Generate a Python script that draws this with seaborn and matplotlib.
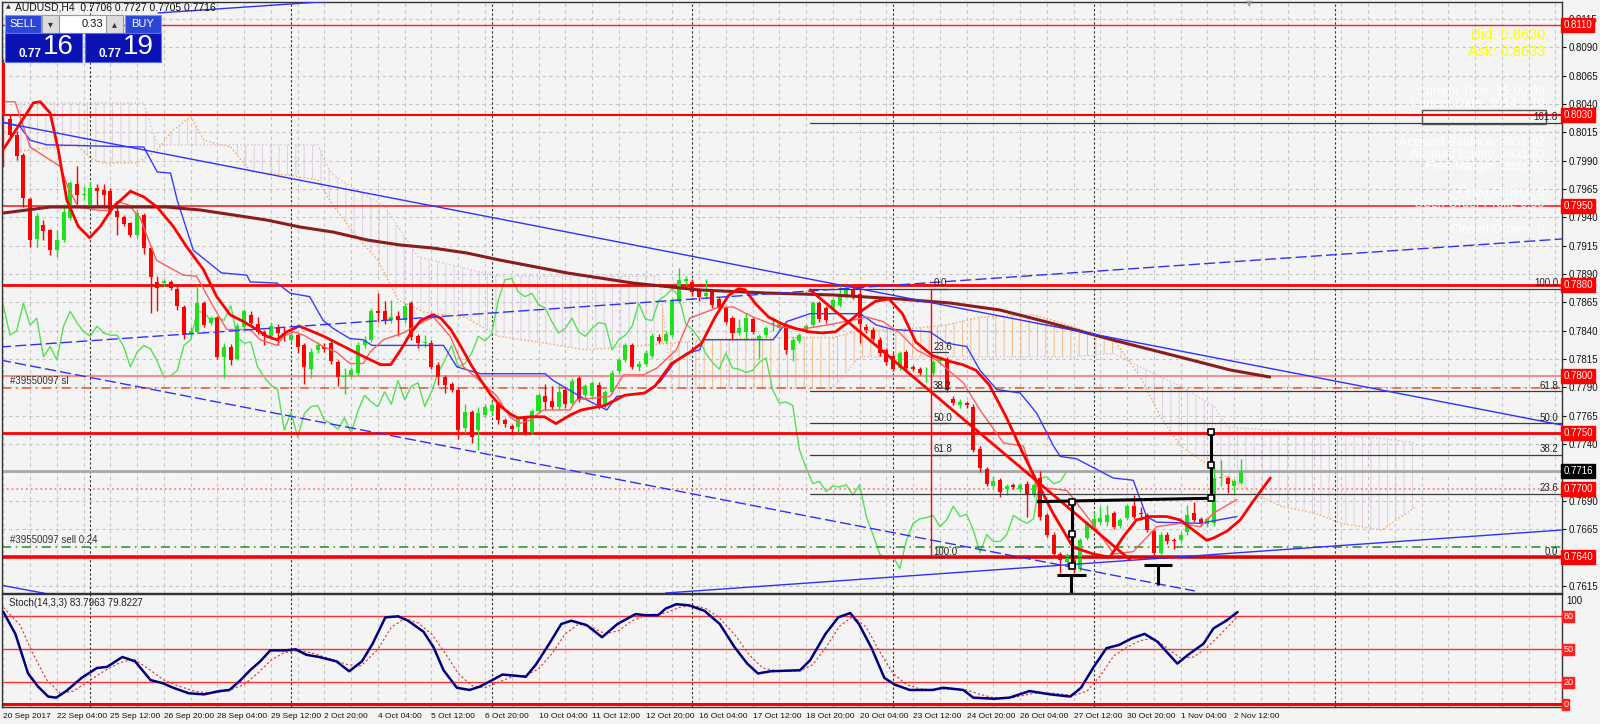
import numpy as np
import pandas as pd
import matplotlib.pyplot as plt
from matplotlib.patches import Rectangle
import seaborn as sns

sns.set_style("white")
plt.rcParams['font.family'] = ['Liberation Sans', 'DejaVu Sans']
plt.rcParams['hatch.linewidth'] = 0.7

# ---------------- data (AUDUSD H4) ----------------
opens = [0.8076, 0.8027, 0.8013, 0.7995, 0.7956, 0.7921, 0.7933, 0.7929, 0.7911, 0.7920,
         0.7939, 0.7969, 0.7960, 0.7950, 0.7966, 0.7964, 0.7963, 0.7946, 0.7940, 0.7935,
         0.7924, 0.7942, 0.7913, 0.7883, 0.7882, 0.7883, 0.7877, 0.7861, 0.7837, 0.7839,
         0.7864, 0.7847, 0.7851, 0.7817, 0.7826, 0.7815, 0.7843, 0.7854, 0.7846, 0.7839,
         0.7835, 0.7842, 0.7838, 0.7832, 0.7836, 0.7827, 0.7806, 0.7823, 0.7826, 0.7829,
         0.7812, 0.7799, 0.7800, 0.7803, 0.7827, 0.7832, 0.7857, 0.7857, 0.7849, 0.7853,
         0.7849, 0.7864, 0.7835, 0.7829, 0.7829, 0.7810, 0.7799, 0.7793, 0.7788, 0.7754,
         0.7768, 0.7752, 0.7766, 0.7769, 0.7775, 0.7761, 0.7756, 0.7755, 0.7763, 0.7751,
         0.7769, 0.7782, 0.7778, 0.7773, 0.7788, 0.7776, 0.7798, 0.7783, 0.7782, 0.7792,
         0.7774, 0.7786, 0.7804, 0.7814, 0.7827, 0.7808, 0.7811, 0.7818, 0.7834, 0.7831,
         0.7836, 0.7866, 0.7884, 0.7883, 0.7876, 0.7871, 0.7874, 0.7868, 0.7860, 0.7851,
         0.7838, 0.7839, 0.7850, 0.7832, 0.7836, 0.7846, 0.7842, 0.7845, 0.7823, 0.7831,
         0.7841, 0.7845, 0.7864, 0.7860, 0.7860, 0.7863, 0.7871, 0.7877, 0.7872, 0.7843,
         0.7841, 0.7832, 0.7823, 0.7818, 0.7807, 0.7821, 0.7808, 0.7806, 0.7805, 0.7803,
         0.7813, 0.7815, 0.7780, 0.7774, 0.7776, 0.7773, 0.7736, 0.7718, 0.7703, 0.7708,
         0.7700, 0.7704, 0.7700, 0.7705, 0.7695, 0.7710, 0.7677, 0.7660, 0.7643, 0.7636,
         0.7638, 0.7630, 0.7657, 0.7667, 0.7671, 0.7671, 0.7679, 0.7668, 0.7675, 0.7685,
         0.7679, 0.7677, 0.7663, 0.7644, 0.7660, 0.7655, 0.7655, 0.7662, 0.7679, 0.7674,
         0.7669, 0.7670, 0.7710, 0.7710, 0.7703, 0.7706]
highs = [0.8080, 0.8030, 0.8016, 0.7997, 0.7958, 0.7944, 0.7938, 0.7930, 0.7929, 0.7952,
         0.7972, 0.7985, 0.7968, 0.7971, 0.7969, 0.7969, 0.7966, 0.7949, 0.7942, 0.7936,
         0.7947, 0.7944, 0.7915, 0.7888, 0.7886, 0.7885, 0.7879, 0.7863, 0.7843, 0.7880,
         0.7866, 0.7853, 0.7853, 0.7829, 0.7828, 0.7847, 0.7859, 0.7857, 0.7852, 0.7841,
         0.7848, 0.7846, 0.7843, 0.7840, 0.7838, 0.7829, 0.7825, 0.7830, 0.7829, 0.7831,
         0.7814, 0.7807, 0.7808, 0.7830, 0.7835, 0.7860, 0.7873, 0.7866, 0.7867, 0.7857,
         0.7864, 0.7866, 0.7837, 0.7836, 0.7832, 0.7812, 0.7801, 0.7795, 0.7790, 0.7775,
         0.7770, 0.7773, 0.7775, 0.7777, 0.7777, 0.7763, 0.7758, 0.7765, 0.7765, 0.7771,
         0.7785, 0.7793, 0.7791, 0.7793, 0.7790, 0.7798, 0.7800, 0.7793, 0.7796, 0.7795,
         0.7788, 0.7805, 0.7816, 0.7829, 0.7829, 0.7813, 0.7823, 0.7838, 0.7837, 0.7840,
         0.7869, 0.7895, 0.7888, 0.7886, 0.7878, 0.7886, 0.7876, 0.7870, 0.7862, 0.7853,
         0.7850, 0.7856, 0.7852, 0.7837, 0.7844, 0.7852, 0.7848, 0.7847, 0.7834, 0.7838,
         0.7846, 0.7866, 0.7866, 0.7862, 0.7869, 0.7880, 0.7880, 0.7880, 0.7879, 0.7846,
         0.7843, 0.7834, 0.7825, 0.7820, 0.7822, 0.7823, 0.7810, 0.7808, 0.7808, 0.7814,
         0.7818, 0.7817, 0.7782, 0.7780, 0.7778, 0.7775, 0.7738, 0.7720, 0.7712, 0.7710,
         0.7705, 0.7706, 0.7706, 0.7707, 0.7706, 0.7716, 0.7679, 0.7662, 0.7645, 0.7644,
         0.7640, 0.7657, 0.7672, 0.7680, 0.7685, 0.7686, 0.7681, 0.7675, 0.7687, 0.7695,
         0.7684, 0.7679, 0.7665, 0.7662, 0.7662, 0.7657, 0.7662, 0.7686, 0.7689, 0.7676,
         0.7676, 0.7720, 0.7726, 0.7712, 0.7709, 0.7727]
lows = [0.7984, 0.8010, 0.7991, 0.7949, 0.7914, 0.7914, 0.7920, 0.7907, 0.7905, 0.7918,
        0.7938, 0.7951, 0.7955, 0.7949, 0.7949, 0.7948, 0.7943, 0.7924, 0.7932, 0.7923,
        0.7922, 0.7908, 0.7856, 0.7857, 0.7879, 0.7876, 0.7858, 0.7833, 0.7834, 0.7838,
        0.7843, 0.7845, 0.7815, 0.7798, 0.7810, 0.7814, 0.7841, 0.7845, 0.7837, 0.7827,
        0.7833, 0.7827, 0.7831, 0.7830, 0.7820, 0.7793, 0.7798, 0.7820, 0.7821, 0.7811,
        0.7791, 0.7784, 0.7798, 0.7801, 0.7825, 0.7830, 0.7848, 0.7846, 0.7847, 0.7835,
        0.7847, 0.7832, 0.7825, 0.7826, 0.7806, 0.7792, 0.7785, 0.7786, 0.7744, 0.7750,
        0.7741, 0.7735, 0.7764, 0.7766, 0.7758, 0.7755, 0.7748, 0.7751, 0.7748, 0.7749,
        0.7767, 0.7770, 0.7771, 0.7771, 0.7772, 0.7774, 0.7777, 0.7780, 0.7780, 0.7771,
        0.7772, 0.7784, 0.7802, 0.7812, 0.7806, 0.7804, 0.7809, 0.7816, 0.7829, 0.7829,
        0.7834, 0.7864, 0.7880, 0.7871, 0.7866, 0.7868, 0.7860, 0.7857, 0.7846, 0.7832,
        0.7836, 0.7832, 0.7837, 0.7815, 0.7834, 0.7840, 0.7840, 0.7819, 0.7813, 0.7829,
        0.7838, 0.7843, 0.7848, 0.7847, 0.7858, 0.7861, 0.7869, 0.7868, 0.7829, 0.7838,
        0.7831, 0.7818, 0.7810, 0.7804, 0.7805, 0.7805, 0.7804, 0.7801, 0.7795, 0.7801,
        0.7811, 0.7786, 0.7774, 0.7772, 0.7772, 0.7733, 0.7715, 0.7703, 0.7701, 0.7693,
        0.7695, 0.7700, 0.7698, 0.7676, 0.7693, 0.7673, 0.7658, 0.7640, 0.7626, 0.7633,
        0.7626, 0.7628, 0.7655, 0.7665, 0.7669, 0.7668, 0.7665, 0.7666, 0.7673, 0.7674,
        0.7673, 0.7662, 0.7639, 0.7642, 0.7652, 0.7647, 0.7653, 0.7660, 0.7671, 0.7668,
        0.7667, 0.7668, 0.7703, 0.7697, 0.7695, 0.7705]
closes = [0.8030, 0.8013, 0.7994, 0.7957, 0.7920, 0.7941, 0.7928, 0.7911, 0.7920, 0.7945,
          0.7970, 0.7960, 0.7961, 0.7966, 0.7963, 0.7960, 0.7945, 0.7940, 0.7934, 0.7924,
          0.7944, 0.7913, 0.7887, 0.7878, 0.7884, 0.7878, 0.7862, 0.7836, 0.7840, 0.7864,
          0.7845, 0.7851, 0.7817, 0.7826, 0.7814, 0.7844, 0.7857, 0.7847, 0.7839, 0.7835,
          0.7844, 0.7838, 0.7836, 0.7836, 0.7826, 0.7808, 0.7821, 0.7827, 0.7824, 0.7813,
          0.7799, 0.7800, 0.7805, 0.7827, 0.7832, 0.7857, 0.7856, 0.7849, 0.7852, 0.7849,
          0.7862, 0.7834, 0.7829, 0.7830, 0.7808, 0.7799, 0.7792, 0.7788, 0.7752, 0.7768,
          0.7746, 0.7767, 0.7773, 0.7774, 0.7761, 0.7758, 0.7753, 0.7763, 0.7750, 0.7769,
          0.7783, 0.7777, 0.7773, 0.7786, 0.7775, 0.7796, 0.7779, 0.7791, 0.7794, 0.7773,
          0.7786, 0.7803, 0.7814, 0.7827, 0.7808, 0.7811, 0.7820, 0.7835, 0.7831, 0.7837,
          0.7867, 0.7885, 0.7886, 0.7874, 0.7870, 0.7873, 0.7863, 0.7860, 0.7848, 0.7838,
          0.7842, 0.7851, 0.7839, 0.7835, 0.7842, 0.7847, 0.7846, 0.7823, 0.7832, 0.7836,
          0.7844, 0.7864, 0.7850, 0.7849, 0.7867, 0.7871, 0.7877, 0.7870, 0.7846, 0.7841,
          0.7833, 0.7820, 0.7812, 0.7806, 0.7820, 0.7807, 0.7806, 0.7803, 0.7805, 0.7812,
          0.7816, 0.7788, 0.7776, 0.7777, 0.7774, 0.7735, 0.7719, 0.7705, 0.7707, 0.7698,
          0.7703, 0.7702, 0.7704, 0.7695, 0.7704, 0.7676, 0.7660, 0.7643, 0.7638, 0.7641,
          0.7630, 0.7655, 0.7670, 0.7674, 0.7675, 0.7677, 0.7667, 0.7673, 0.7685, 0.7676,
          0.7678, 0.7664, 0.7644, 0.7660, 0.7654, 0.7654, 0.7660, 0.7677, 0.7673, 0.7670,
          0.7674, 0.7710, 0.7711, 0.7705, 0.7707, 0.7716]

time_labels = ['20 Sep 2017', '22 Sep 04:00', '25 Sep 12:00', '26 Sep 20:00', '28 Sep 04:00',
               '29 Sep 12:00', '2 Oct 20:00', '4 Oct 04:00', '5 Oct 12:00', '6 Oct 20:00',
               '10 Oct 04:00', '11 Oct 12:00', '12 Oct 20:00', '16 Oct 04:00', '17 Oct 12:00',
               '18 Oct 20:00', '20 Oct 04:00', '23 Oct 12:00', '24 Oct 20:00', '26 Oct 04:00',
               '27 Oct 12:00', '30 Oct 20:00', '1 Nov 04:00', '2 Nov 12:00']
week_starts = [13, 43, 73, 103, 133, 163, 199]

# indicator lines as (bar, value) vertices
ma_fast = [(0, 0.8000), (4.5, 0.8041), (5.5, 0.8042), (7, 0.8032), (8.2, 0.8000), (9.5, 0.7955),
           (11.2, 0.7932), (12.9, 0.7922), (14.5, 0.7932), (16.4, 0.7949), (19, 0.7963), (21, 0.7958),
           (23, 0.7949), (25.4, 0.7932), (27.4, 0.7914), (29.9, 0.7894), (31.9, 0.7870), (33.9, 0.7854),
           (35.9, 0.7848), (37.9, 0.7841), (39.4, 0.7835), (40.9, 0.7832), (42.4, 0.7839), (44.2, 0.7844),
           (45.9, 0.7840), (47.9, 0.7835), (49.9, 0.7829), (51.9, 0.7823), (53.9, 0.7817), (56.4, 0.7810),
           (57.9, 0.7810), (59.4, 0.7823), (60.9, 0.7838), (62.4, 0.7849), (64.2, 0.7854), (65.4, 0.7851),
           (66.9, 0.7841), (68.4, 0.7826), (69.9, 0.7810), (71.4, 0.7796), (72.9, 0.7783), (74.4, 0.7773),
           (75.9, 0.7766), (76.9, 0.7763), (78.9, 0.7764), (80.9, 0.7764), (82.6, 0.7758), (84.9, 0.7766),
           (86.4, 0.7770), (89.9, 0.7774), (92.9, 0.7783), (95.9, 0.7785), (97.4, 0.7791), (99.9, 0.7811),
           (102.4, 0.7820), (104.4, 0.7829), (106.4, 0.7852), (108.4, 0.7871), (109.9, 0.7877),
           (110.9, 0.7876), (112.4, 0.7864), (114.4, 0.7852), (116.4, 0.7846), (118.4, 0.7842),
           (120.4, 0.7839), (122.4, 0.7838), (124.4, 0.7839), (126.4, 0.7848), (128.4, 0.7858),
           (130.4, 0.7866), (132.4, 0.7868), (134.4, 0.7855), (136.4, 0.7830), (138.9, 0.7818),
           (141.4, 0.7813), (143.4, 0.7810), (145.4, 0.7805), (147.4, 0.7792), (149.9, 0.7764),
           (152.4, 0.7732), (154.4, 0.7708), (156.9, 0.7679), (159.9, 0.7649), (162.9, 0.7643),
           (165.4, 0.7640), (167.4, 0.7658), (169.4, 0.7673), (171.4, 0.7676), (173.9, 0.7676),
           (175.9, 0.7673), (177.9, 0.7664), (179.9, 0.7655), (180.9, 0.7657), (182.9, 0.7663),
           (184.9, 0.7673), (186.9, 0.7690), (189.4, 0.7710)]
tenkan = [(0.25, 0.8042), (1.75, 0.8042), (4, 0.8002), (8.5, 0.7985), (9.7, 0.7966), (11.2, 0.7949),
          (14.5, 0.7946), (16, 0.7946), (17, 0.7954), (18.7, 0.7951), (20.4, 0.7940), (22.9, 0.7902),
          (26.9, 0.7889), (28.9, 0.7888), (31.4, 0.7861), (33.4, 0.7841), (36.9, 0.7841), (38.4, 0.7832),
          (40.9, 0.7827), (41.9, 0.7835), (43.4, 0.7839), (44.9, 0.7836), (47.8, 0.7826), (49.8, 0.7821),
          (51.8, 0.7811), (53.8, 0.7811), (54.8, 0.7821), (56.8, 0.7832), (59.8, 0.7838), (62.8, 0.7848),
          (64.3, 0.7852), (66.8, 0.7835), (68.8, 0.7808), (71.8, 0.7793), (73.8, 0.7782), (75.7, 0.7764),
          (77.2, 0.7758), (78.7, 0.7761), (80.7, 0.7770), (84.7, 0.7770), (85.7, 0.7779), (90.7, 0.7782),
          (92.7, 0.7801), (95.7, 0.7801), (97.7, 0.7807), (100.6, 0.7823), (102.6, 0.7851),
          (106.6, 0.7860), (109.1, 0.7861), (112.1, 0.7852), (115.6, 0.7844), (119.1, 0.7841),
          (124.1, 0.7846), (129.1, 0.7852), (131.5, 0.7848), (134, 0.7838), (136.5, 0.7823),
          (139.5, 0.7814), (143.5, 0.7794), (146, 0.7770), (149.5, 0.7741), (152.5, 0.7738),
          (154.5, 0.7702), (159, 0.7699), (162.4, 0.7673), (166, 0.7643), (168.9, 0.7645),
          (172.4, 0.7667), (175.9, 0.7670), (178.9, 0.7667), (180.9, 0.7679), (184.4, 0.7691)]
kijun = [(0, 0.8024), (2.5, 0.8020), (4, 0.8008), (6.5, 0.8004), (21, 0.8002), (23, 0.7980),
         (25, 0.7979), (26, 0.7955), (28.4, 0.7911), (32.6, 0.7891), (36.4, 0.7889), (36.9, 0.7883),
         (40.9, 0.7882), (42.9, 0.7873), (45.8, 0.7870), (47.8, 0.7849), (49.3, 0.7842), (51.8, 0.7833),
         (53.8, 0.7832), (55.1, 0.7827), (65.8, 0.7827), (67.8, 0.7808), (71.3, 0.7802), (81, 0.7802),
         (82.2, 0.7796), (86.2, 0.7782), (90.2, 0.7770), (91.7, 0.7782), (95.7, 0.7785), (98.2, 0.7795),
         (100.2, 0.7811), (102.1, 0.7820), (104.1, 0.7823), (104.6, 0.7832), (115.1, 0.7832),
         (117.1, 0.7848), (120.6, 0.7855), (128.1, 0.7855), (130.5, 0.7845), (133, 0.7841),
         (138.5, 0.7839), (141, 0.7829), (144, 0.7826), (146, 0.7805), (148.5, 0.7788), (152, 0.7785),
         (154.5, 0.7767), (157, 0.7738), (158, 0.7729), (160.4, 0.7727), (165.9, 0.7710),
         (168.9, 0.7708), (170.9, 0.7676), (172.4, 0.7671), (178.9, 0.7670), (184.4, 0.7676)]
span_a = [(2, 0.7998), (8, 0.8002), (11, 0.8004), (13, 0.7992), (15, 0.7988), (20, 0.7988), (23, 0.7999),
          (25, 0.8015), (28, 0.8029), (30, 0.8008), (34, 0.8002), (37, 0.7980), (43, 0.7977), (47, 0.7973),
          (49, 0.7953), (52, 0.7929), (56, 0.7902), (59, 0.7867), (63, 0.7856), (69, 0.7852), (74, 0.7835),
          (81, 0.7829), (87, 0.7823), (98, 0.7828), (105, 0.7832), (115, 0.7834), (124, 0.7834),
          (128, 0.7840), (134, 0.7841), (141, 0.7845), (146, 0.7852), (154, 0.7854), (157, 0.7849),
          (161, 0.7841), (166, 0.7832), (170, 0.7799), (173, 0.7764), (176, 0.7738), (179, 0.7726),
          (182, 0.7714), (187, 0.7696), (191, 0.7685), (196, 0.7679), (200, 0.7670), (206, 0.7664),
          (211, 0.7684)]
span_b = [(2, 0.8041), (21, 0.8041), (23, 0.8004), (47, 0.8004), (49, 0.7979), (52, 0.7967),
          (57, 0.7950), (62, 0.7905), (74, 0.7888), (98, 0.7888), (100, 0.7789), (124, 0.7789),
          (128, 0.7817), (160, 0.7817), (166, 0.7820), (171, 0.7805), (176, 0.7791), (181, 0.7773),
          (183, 0.7755), (190, 0.7752), (206, 0.7745), (211, 0.7741)]
ma_slow = [(0, 0.79438), (7, 0.79491), (24.4, 0.79491), (29.4, 0.79465), (39.4, 0.79376),
           (44.3, 0.79315), (49.3, 0.79270), (54.4, 0.79200), (59.3, 0.79156), (64.2, 0.79129),
           (69.3, 0.79085), (74.2, 0.79023), (84.3, 0.78909), (94.1, 0.78820), (104.1, 0.78759),
           (114.2, 0.78732), (124, 0.78715), (134, 0.78679), (141.5, 0.78644), (149, 0.78582),
           (156, 0.78476), (165.9, 0.78317), (175.9, 0.78167), (183.4, 0.78053), (189.3, 0.77991)]
stoch_k = [(0, 84), (1.8, 64), (3.7, 28), (5.2, 16), (6.7, 7), (7.9, 6), (9.4, 12), (11.7, 24), (14, 33),
           (15.5, 34), (17.8, 43), (19.7, 39), (22, 22), (23.9, 19), (25.4, 15), (27.7, 10), (30, 9),
           (32.3, 12), (33.8, 13), (35.3, 21), (36.9, 31), (38.4, 39), (39.9, 49), (42.2, 49), (43.7, 50),
           (45.3, 45), (47.2, 43), (49.8, 39), (51.7, 30), (53.6, 39), (55.2, 55), (57.1, 79), (59, 80),
           (60.5, 76), (62.8, 66), (64.3, 52), (65.8, 31), (67.8, 15), (69.7, 13), (71.2, 16), (73.1, 22),
           (74.6, 27), (76.5, 26), (78.1, 25), (79.6, 36), (81.5, 54), (83.4, 73), (84.9, 76), (87.2, 72),
           (89.5, 61), (91.8, 73), (94.5, 82), (96, 81), (97.9, 81), (99, 87), (100.6, 91), (102.5, 90),
           (104.8, 85), (107.1, 73), (109.3, 52), (111.2, 37), (112.8, 28), (114.7, 30), (119.1, 31),
           (120.6, 40), (122.9, 64), (124.8, 79), (126.6, 83), (127.9, 73), (129.8, 51), (131.7, 24),
           (133.2, 18), (135.5, 13), (138.9, 13), (140.5, 15), (143.5, 13), (145, 6), (148.1, 5),
           (150.4, 6), (153.4, 12), (156.5, 9), (159.5, 7), (161.1, 15), (163, 34), (164.9, 51),
           (166.8, 54), (168.7, 60), (170.6, 64), (172.5, 57), (175.5, 37), (177.1, 45), (179.4, 55),
           (180.9, 69), (182.8, 76), (184.5, 83.8)]
stoch_d = [(0, 88), (2.5, 72), (4.5, 45), (6.5, 22), (8.5, 10), (10.5, 12), (12.5, 20), (15, 30),
           (17.5, 38), (19.5, 41), (21.5, 33), (24, 22), (26, 17), (28.5, 12), (31, 10), (33.5, 12),
           (36, 18), (38, 28), (40, 40), (42, 47), (44.5, 49), (46.5, 46), (49, 41), (51.5, 36),
           (53.5, 35), (56, 50), (58, 70), (60, 78), (62, 74), (64, 64), (66, 47), (68, 28), (70, 17),
           (72, 15), (74, 20), (76, 25), (78, 26), (80, 32), (82, 46), (84, 64), (86, 73), (88, 70),
           (90, 64), (92, 67), (94, 76), (96, 81), (99, 83), (101, 88), (103, 90), (105, 87), (107, 79),
           (109.5, 62), (111.5, 45), (113.5, 33), (116, 30), (119, 30), (121, 36), (123, 52), (125, 71),
           (127, 80), (129, 70), (131, 48), (133, 28), (135, 18), (137, 14), (139, 13), (141, 14),
           (144, 13), (146, 9), (148, 6), (151, 6), (154, 10), (157, 10), (160, 8), (162, 12), (164, 26),
           (166, 44), (168, 52), (170, 58), (172, 60), (174, 51), (176, 42), (178, 43), (180, 52),
           (182, 64), (184.5, 79.8)]

# horizontal levels (price, colour, width, style)
h_levels = [(0.8110, '#ff2020', 1.0, '-'), (0.8030, '#ff0000', 1.5, '-'), (0.7950, '#ff2020', 1.2, '-'),
            (0.7880, '#ff0000', 2.0, '-'), (0.7800, '#ff8080', 1.3, '-'), (0.7750, '#ff0000', 2.0, '-'),
            (0.7700, '#ff8080', 1.3, ':'), (0.7640, '#ff0000', 2.6, '-')]
fib_high, fib_low = 0.7877, 0.7640
fib_ratios = [0.0, 0.236, 0.382, 0.5, 0.618, 1.0]
last_price = 0.7716

# ---------------- figure ----------------
fig = plt.figure(figsize=(16, 7.24), dpi=100, facecolor='#f4f4f4')
ax = fig.add_axes([0.00125, 0.18094, 0.975, 0.81630], facecolor='#f4f4f4')
ax_st = fig.add_axes([0.00125, 0.02348, 0.975, 0.15608], facecolor='#f4f4f4')
x0, x1 = -0.2, 233.0
ax.set_xlim(x0, x1)
ax.set_ylim(0.760851, 0.81300)
ax_st.set_xlim(x0, x1)
ax_st.set_ylim(-2.5, 100.3)

grid_kw = dict(color='#c4c4c4', lw=0.8, ls=(0, (3, 3)), zorder=0.5)
for b in range(0, 233, 4):
    ax.axvline(b, **grid_kw)
    ax_st.axvline(b, **grid_kw)
for w in week_starts:
    ax.axvline(w, color='#303030', lw=0.8, ls=(0, (2, 2)), zorder=0.6)
    ax_st.axvline(w, color='#303030', lw=0.8, ls=(0, (2, 2)), zorder=0.6)
price_ticks = [round(0.7615 + 0.0025 * k, 4) for k in range(21)]
for p in price_ticks:
    ax.axhline(p, **grid_kw)

# ichimoku cloud (hatched)
def seg(pts, lo, hi):
    return [(b, v) for b, v in pts if lo <= b <= hi]

for lo, hi, col in [(2, 98, '#d8bfd8'), (98, 166, '#f4a460'), (166, 211, '#d8bfd8')]:
    a = seg(span_a, lo, hi)
    b = seg(span_b, lo, hi)
    xs = [p[0] for p in a] + [p[0] for p in b[::-1]]
    ys = [p[1] for p in a] + [p[1] for p in b[::-1]]
    ax.fill(xs, ys, facecolor='none', edgecolor=col, hatch='||', linewidth=0, alpha=0.7, zorder=1)

def vline_df(pts):
    return pd.DataFrame(pts, columns=['bar', 'val'])

for pts, col, lw, ls in [(span_a, '#f4a460', 1.0, ':'), (span_b, '#d8bfd8', 1.0, ':')]:
    d = vline_df(pts)
    sns.lineplot(data=d, x='bar', y='val', ax=ax, color=col, lw=lw, linestyle=ls, sort=False,
                 estimator=None, legend=False, zorder=1.5)

# chikou span = close shifted 26 bars back
chik = pd.DataFrame({'bar': np.arange(len(closes) - 26), 'val': closes[26:]})
sns.lineplot(data=chik, x='bar', y='val', ax=ax, color='#55e055', lw=1.0, sort=False,
             estimator=None, legend=False, zorder=2)

# price level lines
for p, c, lw, ls in h_levels:
    ax.axhline(p, color=c, lw=lw, ls=ls, zorder=2.2)
ax.axhline(last_price, color='#a8a8a8', lw=2.0, zorder=2.1)
ax.axhline(0.7789, color='#e8552a', lw=1.1, ls=(0, (6, 3, 1, 3)), zorder=2.2)
ax.axhline(0.7649, color='#2a8a2a', lw=1.1, ls=(0, (6, 3, 1, 3)), zorder=2.2)
ax.text(1.0, 0.7791, '#39550097 sl', fontsize=7, color='#333333', va='bottom', zorder=6)
ax.text(1.0, 0.7651, '#39550097 sell 0.24', fontsize=7, color='#333333', va='bottom', zorder=6)

# candles
o, h, l, c = map(np.array, (opens, highs, lows, closes))
bars = np.arange(len(o))
up = c >= o
cols = np.where(up, '#1fe01f', '#ff0000')
ax.vlines(bars, l, h, colors=cols, lw=1.0, zorder=3)
ax.bar(bars, np.maximum(np.abs(c - o), 0.00003), bottom=np.minimum(o, c), width=0.6,
       color=cols, linewidth=0, zorder=3.1)

# indicator lines
for pts, col, lw in [(kijun, '#3a3aff', 1.0), (tenkan, '#ff5c5c', 1.0),
                     (ma_slow, '#8b1c1c', 2.2), (ma_fast, '#ff0000', 2.0)]:
    d = vline_df(pts)
    sns.lineplot(data=d, x='bar', y='val', ax=ax, color=col, lw=lw, sort=False,
                 estimator=None, legend=False, zorder=4)

# drawn trend lines
blue = '#3030ff'
ax.plot([-0.5, 233], [0.80241, 0.77567], color=blue, lw=1.0, zorder=4.5)
ax.plot([-0.5, 10], [0.76156, 0.7604], color=blue, lw=1.0, zorder=4.5)
ax.plot([-0.5, 233], [0.78256, 0.79209], color=blue, lw=1.0, ls=(0, (8, 3)), zorder=4.5)
ax.plot([-0.5, 178.1], [0.78141, 0.76103], color=blue, lw=1.0, ls=(0, (8, 3)), zorder=4.5)
ax.plot([99, 233], [0.76085, 0.76641], color=blue, lw=1.0, zorder=4.5)
ax.plot([23.1, 50], [0.81203, 0.81311], color=blue, lw=1.0, zorder=4.5)
ax.plot([120.6, 168.4], [0.7876, 0.7638], color='#ff0000', lw=2.0, zorder=4.6)

# fibonacci
fib_bar = 138.7
ax.plot([fib_bar, fib_bar], [fib_high, fib_low], color='#ff0000', lw=1.0, zorder=4.6)
rng = fib_high - fib_low
right_levels = fib_ratios + [1.618]
for r in right_levels:
    y = fib_low + r * rng
    ax.plot([120.6, x1], [y, y], color='#3c3c3c', lw=0.9, zorder=4.4)
    ax.text(x1 - 0.6, y + 0.00004, f'{r * 100:.1f}', fontsize=7, ha='right', va='bottom',
            color='#222222', zorder=6)
for r in fib_ratios:
    y = fib_high - r * rng
    ax.plot([fib_bar, fib_bar + 2.5], [y, y], color='#3c3c3c', lw=0.9, zorder=4.4)
    ax.text(fib_bar + 0.3, y + 0.00004, f'{r * 100:.1f}', fontsize=7, ha='left', va='bottom',
            color='#222222', zorder=6)
ax.add_patch(Rectangle((212.0, 0.80223), 18.6, 0.00124, fill=False, ec='#555555', lw=1.0, zorder=5))

# black pattern markup
blk = dict(color='black', lw=2.2, zorder=5.5, solid_capstyle='butt')
ax.plot([154.5, 180.6], [0.76891, 0.76921], **blk)
ax.plot([159.7, 159.7], [0.76891, 0.7632], **blk)
ax.plot([180.6, 180.6], [0.77508, 0.76921], **blk)
ax.plot([157.5, 161.8], [0.7624, 0.7624], **blk)
ax.plot([159.6, 159.6], [0.7624, 0.7608], **blk)
ax.plot([170.5, 174.7], [0.7633, 0.7633], **blk)
ax.plot([172.6, 172.6], [0.7633, 0.7616], **blk)
ax.scatter([159.7, 159.7, 159.7, 180.6, 180.6, 180.6],
           [0.76891, 0.76606, 0.7632, 0.77508, 0.77215, 0.76921],
           marker='s', s=16, facecolor='white', edgecolor='black', lw=1.2, zorder=6)

# right price axis (labels hidden behind the level boxes are left blank)
hidden = {0.7640, 0.7715}
ax.yaxis.tick_right()
ax.set_yticks(price_ticks)
ax.set_yticklabels(['' if p in hidden else f'{p:.4f}' for p in price_ticks])
ax.tick_params(axis='y', length=3, labelsize=7, pad=1.5, colors='#111111')
ax.set_xticks([])
ytr = ax.get_yaxis_transform()
for p, _, _, _ in h_levels:
    ax.text(1.0008, p, f'{p:.4f}', transform=ytr, fontsize=7, color='white', va='center', ha='left',
            bbox=dict(boxstyle='square,pad=0.2', fc='#ff0000', ec='#ff0000'), zorder=10, clip_on=False)
ax.text(1.0008, last_price, f'{last_price:.4f}', transform=ytr, fontsize=7, color='white',
        va='center', ha='left', bbox=dict(boxstyle='square,pad=0.2', fc='black', ec='black'),
        zorder=10, clip_on=False)

# stochastic panel
for lev in (80, 50, 20):
    ax_st.axhline(lev, color='#ff3030', lw=1.0, zorder=1)
ax_st.axhline(0, color='#ff0000', lw=2.2, zorder=1)
sk = vline_df(stoch_k)
sd = vline_df(stoch_d)
sns.lineplot(data=sd, x='bar', y='val', ax=ax_st, color='#e03030', lw=0.8, linestyle=(0, (2, 2)),
             sort=False, estimator=None, legend=False, zorder=3)
sns.lineplot(data=sk, x='bar', y='val', ax=ax_st, color='#000080', lw=1.8, sort=False,
             estimator=None, legend=False, zorder=4)
ax_st.yaxis.tick_right()
ax_st.set_yticks([])
ystr = ax_st.get_yaxis_transform()
ax_st.text(1.003, 94, '100', transform=ystr, fontsize=7, color='#111111', va='center', ha='left',
           clip_on=False)
for lev in (80, 50, 20, 0):
    ax_st.text(1.0008, lev, str(lev), transform=ystr, fontsize=6.5, color='white', va='center', ha='left',
               bbox=dict(boxstyle='square,pad=0.12', fc='#ff2020', ec='#ff2020'), zorder=10, clip_on=False)
ax_st.text(0.8, 97, 'Stoch(14,3,3) 83.7963 79.8227', fontsize=7, va='top', color='#222222')
tick_bars = [8 * k for k in range(len(time_labels))]
ax_st.set_xticks(tick_bars)
ax_st.set_xticklabels(time_labels, ha='left')
ax_st.tick_params(axis='x', length=3, labelsize=6, pad=1.5, colors='#111111')
ax_st.set_xlabel('')
ax_st.set_ylabel('')
ax.set_xlabel('')
ax.set_ylabel('')
for a_ in (ax, ax_st):
    for s in a_.spines.values():
        s.set_color('#333333')
        s.set_linewidth(1.0)

# ---------------- overlay: header, trade panel, info text ----------------
ov = fig.add_axes([0, 0, 1, 1], zorder=20)
ov.set_xlim(0, 1600)
ov.set_ylim(724, 0)
ov.axis('off')
ov.patch.set_alpha(0)
ov.text(6, 7, '▲', fontsize=4.5, va='center', color='#333333', family=['DejaVu Sans'])
ov.text(15, 7, 'AUDUSD,H4  0.7706 0.7727 0.7705 0.7716', fontsize=7.5, va='center', color='#111111')
ov.text(1249, 4, '▼', fontsize=6, va='center', ha='center', color='#9a9a9a', family=['DejaVu Sans'])

ov.add_patch(Rectangle((5, 15), 36, 18, fc='#2b46d6', ec='#7d90ff', lw=0.8))
ov.text(23, 24, 'SELL', color='white', fontsize=8, ha='center', va='center')
ov.add_patch(Rectangle((42, 15), 17, 18, fc='#dcdcdc', ec='#9a9a9a', lw=0.8))
ov.text(50.5, 24, '▾', fontsize=7, ha='center', va='center', color='#333333', family=['DejaVu Sans'])
ov.add_patch(Rectangle((59, 15), 47, 18, fc='white', ec='#9a9a9a', lw=0.8))
ov.text(103, 24, '0.33', fontsize=8, ha='right', va='center', color='#111111')
ov.add_patch(Rectangle((106, 15), 17, 18, fc='#dcdcdc', ec='#9a9a9a', lw=0.8))
ov.text(114.5, 24, '▴', fontsize=7, ha='center', va='center', color='#333333', family=['DejaVu Sans'])
ov.add_patch(Rectangle((125, 15), 36, 18, fc='#2b46d6', ec='#7d90ff', lw=0.8))
ov.text(143, 24, 'BUY', color='white', fontsize=8, ha='center', va='center')
for bx, w in [(5, 77), (85, 76)]:
    ov.add_patch(Rectangle((bx, 33), w, 29, fc='#0b12b4', ec='#5a6cff', lw=0.8))
ov.text(30, 54, '0.77', color='white', fontsize=8.5, ha='center', va='center', weight='bold')
ov.text(58, 47, '16', color='white', fontsize=20, ha='center', va='center')
ov.text(110, 54, '0.77', color='white', fontsize=8.5, ha='center', va='center', weight='bold')
ov.text(138, 47, '19', color='white', fontsize=20, ha='center', va='center')

ov.text(1545, 35, 'Bid: 0.8630', color='#ffff00', fontsize=10.5, ha='right', va='center')
ov.text(1545, 52, 'Ask: 0.8633', color='#ffff00', fontsize=10.5, ha='right', va='center')
info = [(92, 'Current Time: 15:00:00'), (104, 'Current Date: 2014.1.10'),
        (143, 'Account Balance: 3831.92'), (155, 'Account Equity: 3831.92'),
        (167, 'Free Margin: 3831.92'), (193, 'Open Orders: 0'),
        (204, 'Open Order Profit: 0.00'), (230, 'Closed Orders: 0')]
for yy, t in info:
    ov.text(1545, yy, t, color='white', fontsize=9, ha='right', va='center')

plt.savefig('out.png', dpi=100, facecolor=fig.get_facecolor())
plt.close()
